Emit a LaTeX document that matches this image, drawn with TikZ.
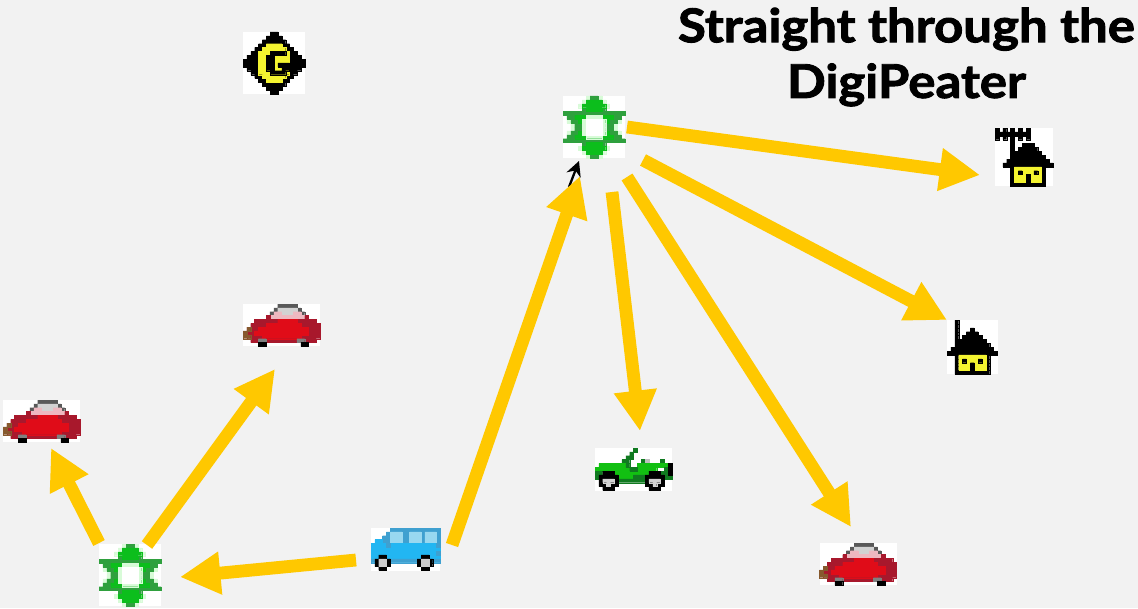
\documentclass[tikz,border=0pt]{standalone}
\usepackage{fontspec}
\setmainfont{Lato}[BoldFeatures={FakeBold=2,FakeStretch=1.095}]
\usetikzlibrary{arrows.meta}
\pgfdeclarelayer{bg}
\pgfsetlayers{bg,main}
\definecolor{feedcol}{HTML}{FFC800}
\definecolor{digigreen}{HTML}{0CBE1C}
\definecolor{digidark}{HTML}{2FA03E}
\definecolor{digipale}{HTML}{D8FBD8}
\definecolor{cardark}{HTML}{A8182C}
\definecolor{carred}{HTML}{E00C18}
\definecolor{carpink}{HTML}{EEB8C0}
\definecolor{vanblue}{HTML}{22B6F2}
\definecolor{vanmid}{HTML}{3FA0D0}
\definecolor{vanglass}{HTML}{98D8F0}
\definecolor{jeepgreen}{HTML}{12C012}
\definecolor{jeepdark}{HTML}{107A20}
\definecolor{wallyellow}{HTML}{F4F430}
\newcommand{\runs}[2]{\fill[#1,draw=#1,line width=.1pt] \foreach \py/\px/\pn in {#2} {(\px,\py) rectangle ++(\pn,1)};}
\tikzset{
  iconbox/.style={fill=white,inner sep=0pt,outer sep=0pt,minimum width=#1*0.02cm},
  iconbox/.default=62,
  feed/.style={draw=feedcol,line width=7.3pt,-{Triangle[length=23pt,width=23pt]}},
  gatepic/.pic={\begin{scope}[scale=3.875]
    \runs{black}{0/7/2,1/6/4,2/5/6,3/4/8,4/3/10,5/2/12,6/1/14,7/0/16,8/0/16,9/1/14,10/2/12,11/3/10,12/4/8,13/5/6,14/6/4,15/7/2}
    \runs{wallyellow}{3/6/4,4/5/6,5/4/8,6/4/8,7/4/8,8/4/8,9/4/8,10/4/8,11/5/6,12/6/4}
    \runs{black}{5/7/4,6/6/2,7/6/2,8/6/2,9/6/2,10/7/4,8/9/3,9/10/2}
  \end{scope}},
  digipic/.pic={\begin{scope}[scale=3.875]
    \runs{digipale}{0/6/1,0/9/1,1/5/1,1/10/1,2/4/1,2/11/1,15/6/1,15/9/1,14/5/1,14/10/1,13/4/1,13/11/1,6/1/1,7/2/1,8/2/1,9/1/1,6/14/1,7/13/1,8/13/1,9/14/1}
    \runs{digidark}{0/7/2,15/7/2,4/0/16,11/0/16,5/1/14,10/1/14,6/2/12,9/2/12,7/3/2,8/3/2,7/11/2,8/11/2,3/5/6,12/5/6}
    \runs{digigreen}{1/6/4,2/5/6,3/6/4,5/3/10,6/4/8,9/4/8,10/3/10,12/6/4,13/5/6,14/6/4}
    \runs{digipale}{5/6/4,6/5/6,7/5/6,8/5/6,9/5/6,10/6/4}
    \runs{white}{6/6/4,7/6/4,8/6/4,9/6/4}
  \end{scope}},
  aerialpic/.pic={\begin{scope}[scale=3.875]
    \runs{black}{0/0/1,0/2/1,0/4/1,0/6/1,0/8/1,1/0/9,2/0/1,2/2/1,2/4/1,2/6/1,2/8/1,3/4/1,4/4/1,5/4/1,6/4/1,7/4/1,8/4/1}
    \runs{black}{4/7/3,5/6/5,6/5/7,7/4/9,8/3/11,9/2/13,10/4/1,11/4/1,12/4/1,13/4/1,14/4/9,10/12/1,11/12/1,12/12/1,13/12/1}
    \runs{wallyellow}{10/5/7,11/5/7,12/5/7,13/5/7}
    \runs{black}{11/6/1,11/10/1,12/8/1,13/8/1}
  \end{scope}},
  mastpic/.pic={\begin{scope}[scale=3.875]
    \runs{black}{0/2/1,1/2/1,2/2/1,3/2/1,4/2/1,5/2/1,2/6/1,3/5/3,4/4/5,5/3/7,6/2/9,7/1/11,8/0/13,9/2/1,10/2/1,11/2/1,12/2/1,13/2/9,9/10/1,10/10/1,11/10/1,12/10/1}
    \runs{wallyellow}{9/3/7,10/3/7,11/3/7,12/3/7}
    \runs{black}{10/4/1,10/8/1,11/6/1,12/6/1}
  \end{scope}},
  redcarpic/.pic={\begin{scope}[scale=3.85]
    \runs{black!65}{0/9/5,1/8/7,2/7/2,2/14/2}
    \runs{gray!35}{1/9/5,2/9/5}
    \runs{carpink}{2/8/2,2/13/2,3/7/9}
    \runs{cardark}{3/6/1,3/16/1,4/3/16,5/2/18,6/1/19,7/1/19,8/1/19,9/2/17}
    \runs{carred}{4/9/5,5/6/9,6/4/13,7/3/14,8/5/10}
    \runs{brown!70!black}{7/0/1,8/0/2,6/1/1}
    \runs{gray}{9/4/2,9/14/2}
    \runs{black}{10/4/2,10/15/2}
  \end{scope}},
  vanpic/.pic={\begin{scope}[scale=3.85]
    \runs{vanmid}{0/5/13,1/4/14,2/3/15,3/2/16}
    \runs{vanglass}{1/5/3,2/5/3,1/10/3,2/10/3,1/14/3,2/14/3,3/5/3,3/10/3,3/14/3}
    \runs{vanblue}{3/1/2,4/0/18,5/0/18,6/0/18,7/0/18,8/0/18}
    \runs{vanmid}{4/4/1,4/17/1,6/17/1,8/0/18}
    \runs{black}{7/2/2,8/1/4,9/1/4,10/2/2,7/13/2,8/12/4,9/12/4,10/13/2}
    \runs{gray!40}{8/2/2,9/2/2,8/13/2,9/13/2}
  \end{scope}},
  jeeppic/.pic={\begin{scope}[scale=3.85]
    \runs{jeepdark}{0/10/1,1/9/1,2/8/2,3/7/2,3/12/1,3/17/1}
    \runs{gray!50}{3/13/1}
    \runs{jeepgreen}{4/1/8,4/11/8,5/0/16,6/2/14,7/2/14}
    \runs{jeepdark}{4/8/1,6/0/2,5/9/2,6/16/3,5/18/2,7/0/1,7/10/3,7/18/2,8/5/8}
    \runs{black}{4/19/1,5/19/1,6/19/1,6/2/3,7/1/5,8/1/5,9/1/5,10/2/3,6/14/3,7/13/5,8/13/5,9/13/5,10/14/3}
    \runs{gray!35}{8/2/3,9/3/1,8/14/3,9/15/1}
  \end{scope}}
}
\begin{document}
\begin{tikzpicture}[x=0.02cm,y=-0.02cm]
	\useasboundingbox (0,0) rectangle (1138,608);
	\begin{pgfonlayer}{bg}
		\fill[black!5] (0,0) rectangle (1138,608);
	\end{pgfonlayer}
	\node (title) [align=center,font=\bfseries\fontsize{26.5pt}{31.7pt}\selectfont] at (906.5,57) {Straight through the\\DigiPeater};
	\node (gate) [iconbox,minimum height=62*0.02cm] at (274,63) {};
	\node (dg1) [iconbox,minimum height=62*0.02cm] at (130,575) {};
	\node (dg2) [iconbox,minimum height=62*0.02cm] at (594,127) {};
	\node (hs1) [iconbox=58,minimum height=58*0.02cm] at (1024,157) {};
	\node (hs2) [iconbox=51,minimum height=54*0.02cm] at (972.5,347) {};
	\node (car1) [iconbox=77,minimum height=42*0.02cm] at (41.5,421) {};
	\node (car2) [iconbox=77,minimum height=42*0.02cm] at (281.5,325) {};
	\node (car3) [iconbox=77,minimum height=42*0.02cm] at (858,564) {};
	\node (van) [iconbox=69,minimum height=43*0.02cm] at (405.5,549.5) {};
	\node (jeep) [iconbox=77,minimum height=43*0.02cm] at (633.5,469.5) {};
	\pic at (gate.north west) {gatepic};
	\pic at (dg1.north west) {digipic};
	\pic at (dg2.north west) {digipic};
	\pic at (hs1.north west) {aerialpic};
	\pic at (hs2.north west) {mastpic};
	\pic at (car1.north west) {redcarpic};
	\pic at (car2.north west) {redcarpic};
	\pic at (car3.north west) {redcarpic};
	\pic at (van.north west) {vanpic};
	\pic at (jeep.north west) {jeeppic};
	\coordinate (ack0) at (569,187);
	\coordinate (ack1) at (579,161);
	\coordinate (e1a) at (627,127);
	\coordinate (e1b) at (980,175);
	\coordinate (e2a) at (643,160);
	\coordinate (e2b) at (947,320);
	\coordinate (e3a) at (627,177);
	\coordinate (e3b) at (851,527);
	\coordinate (e4a) at (612,192);
	\coordinate (e4b) at (640,431);
	\coordinate (e5a) at (452,545);
	\coordinate (e5b) at (580,176);
	\coordinate (e6a) at (356,560);
	\coordinate (e6b) at (180,577);
	\coordinate (e7a) at (147,545);
	\coordinate (e7b) at (275,369);
	\coordinate (e8a) at (99,543);
	\coordinate (e8b) at (51,448);
	\draw (ack0) edge [line width=1.3pt,-{Stealth[length=8.5pt,width=8.5pt]}] (ack1);
	\draw (e1a) edge [feed] (e1b);
	\draw (e2a) edge [feed] (e2b);
	\draw (e3a) edge [feed] (e3b);
	\draw (e4a) edge [feed] (e4b);
	\draw (e5a) edge [feed] (e5b);
	\draw (e6a) edge [feed] (e6b);
	\draw (e7a) edge [feed] (e7b);
	\draw (e8a) edge [feed] (e8b);
\end{tikzpicture}
\end{document}
